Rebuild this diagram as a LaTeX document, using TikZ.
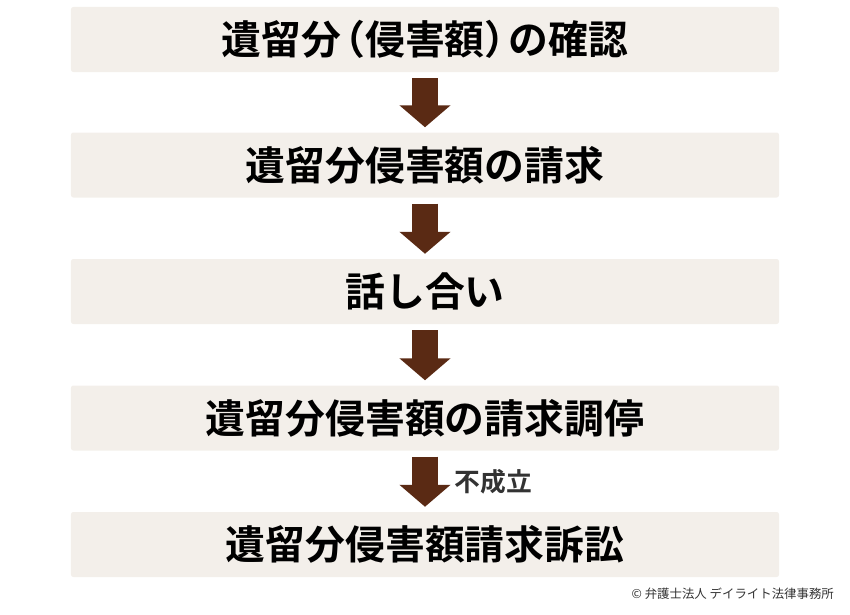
\documentclass[tikz,border=0pt]{standalone}
\usepackage{fontspec}
\setmainfont{Noto Sans CJK JP}[BoldFont={Noto Sans CJK JP Bold}]
\usepackage{xcolor}
\usetikzlibrary{positioning, arrows.meta}

\definecolor{boxfill}{HTML}{F3EFEA}
\definecolor{arrowbrown}{HTML}{5A2A14}
\definecolor{notegray}{HTML}{333333}

\begin{document}
\begin{tikzpicture}[
    x=0.03cm, y=-0.03cm,
    stepbox/.style={rectangle, fill=boxfill, rounded corners=2pt, minimum height=1.95cm, minimum width=21.24cm, align=center, font=\fontsize{34}{40}\selectfont\bfseries},
    flow/.style={-{Triangle[length=0.66cm, width=1.5cm]}, line width=0.78cm, draw=arrowbrown, shorten <=0.18cm, shorten >=0.15cm}
]
\useasboundingbox (0,0) rectangle (850,614);

\node[stepbox] (s1) at (425, 39.5) {遺留分\kern-.4em（侵害額）\kern-.4em の確認};
\node[stepbox] (s2) at (425, 165) {遺留分侵害額の請求};
\node[stepbox] (s3) at (425, 291.5) {話し合い};
\node[stepbox] (s4) at (425, 418) {遺留分侵害額の請求調停};
\node[stepbox] (s5) at (425, 544.5) {遺留分侵害額請求訴訟};

\draw[flow] (s1) -- (s2);
\draw[flow] (s2) -- (s3);
\draw[flow] (s3) -- (s4);
\draw[flow] (s4) -- (s5) node[midway, right=0.39cm, font=\fontsize{22}{26}\selectfont\bfseries, text=notegray] (fail) {不成立};

\node[anchor=east, font=\fontsize{10.6}{13}\selectfont, text=notegray] (credit) at (838, 594) {© 弁護士法人 デイライト法律事務所};

\end{tikzpicture}
\end{document}
